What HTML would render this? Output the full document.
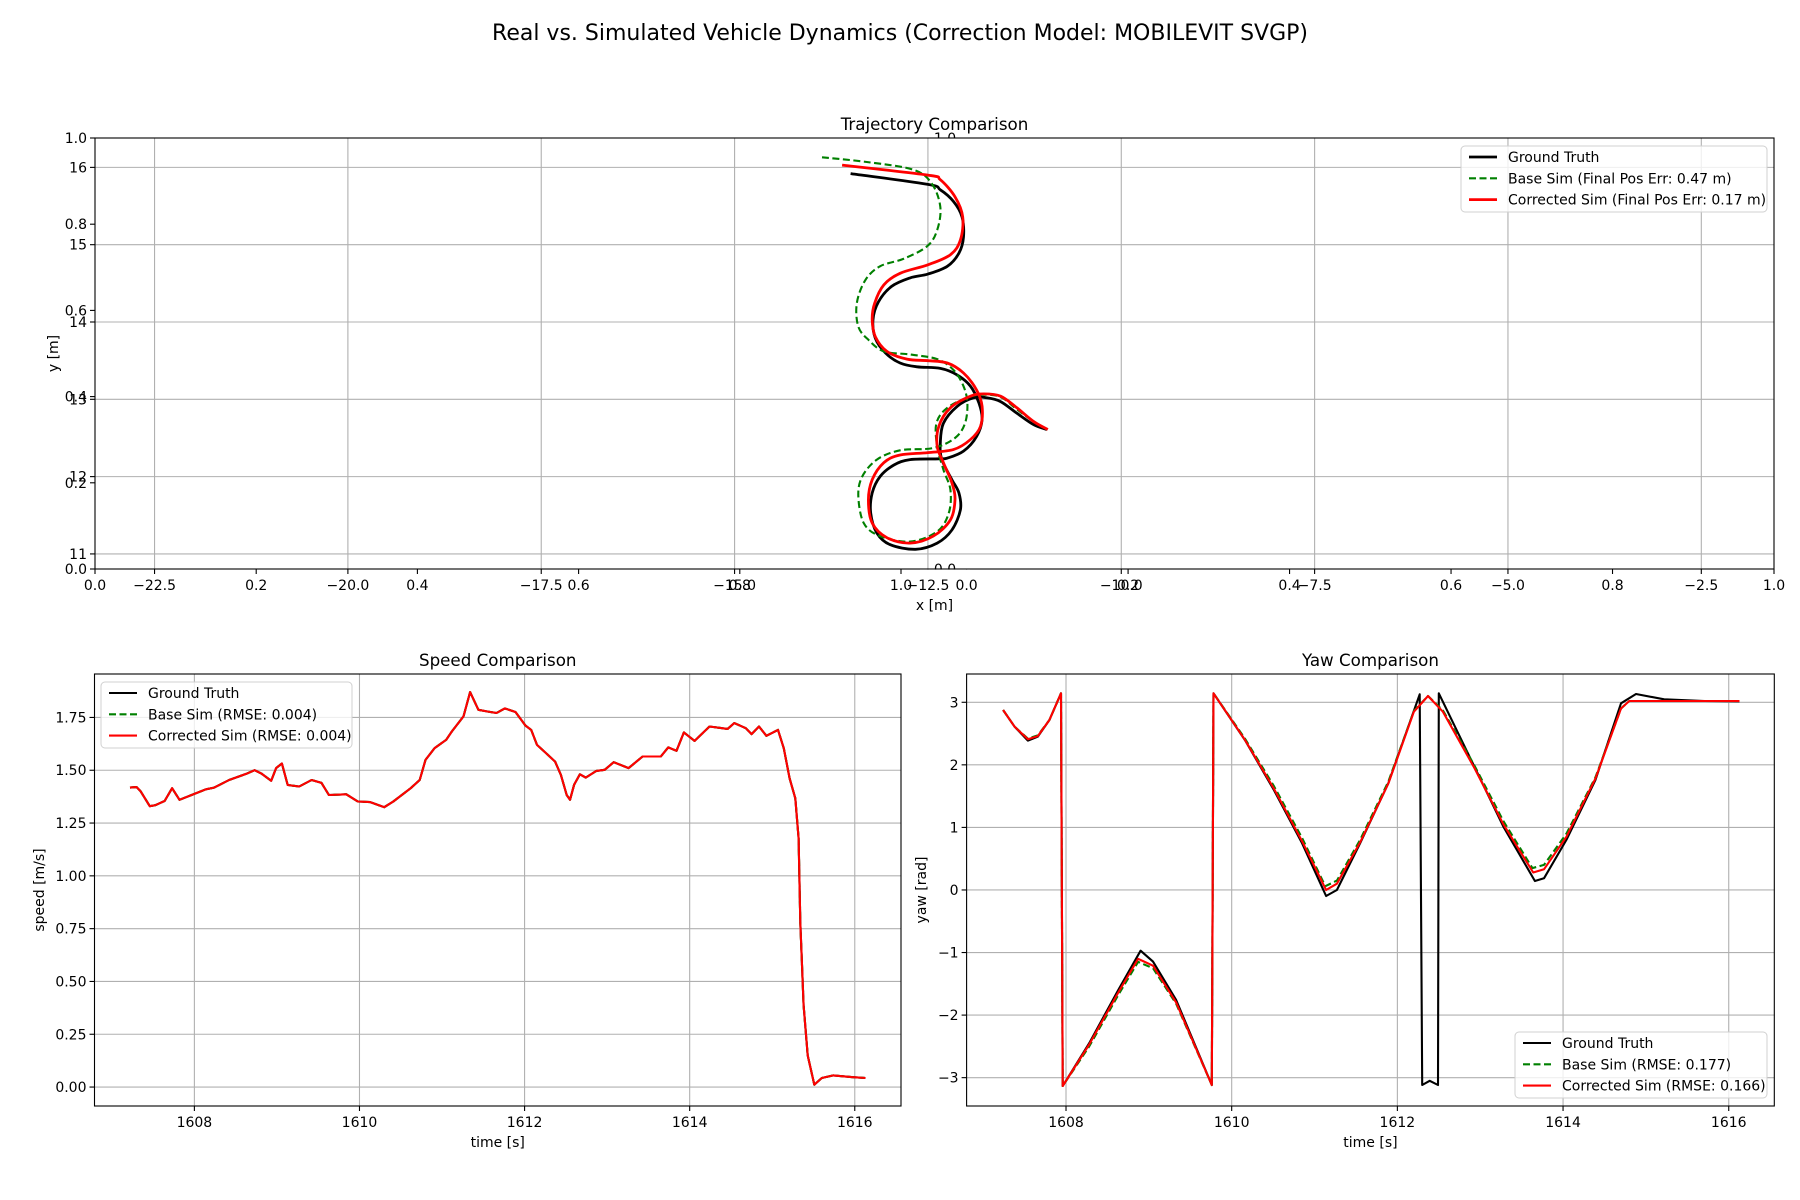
<!DOCTYPE html>
<html><head><meta charset="utf-8"><style>
html,body{margin:0;padding:0;background:#fff;}
svg{display:block;font-family:"DejaVu Sans","Liberation Sans",sans-serif;}
</style></head><body>
<svg id="fig" width="1800" height="1200" viewBox="0 0 1800 1200" xmlns="http://www.w3.org/2000/svg">
<rect width="1800" height="1200" fill="#fff"/>
<text x="900" y="40" font-size="22" text-anchor="middle">Real vs. Simulated Vehicle Dynamics (Correction Model: MOBILEVIT SVGP)</text>
</svg>
<script>
// ---- Trajectory data (meters) ----
const gtX=[-13.50,-12.50,-12.34,-12.17,-12.06,-12.04,-12.10,-12.25,-12.50,-12.73,-12.97,-13.14,-13.21,-13.18,-13.05,-12.86,-12.64,-12.34,-12.13,-11.95,-11.84,-11.80,-11.87,-12.04,-12.25,-12.36,-12.73,-12.94,-13.12,-13.22,-13.24,-13.16,-12.99,-12.66,-12.38,-12.19,-12.08,-12.10,-12.19,-12.32,-12.34,-12.30,-12.12,-11.91,-11.74,-11.56,-11.35,-11.13,-10.96];
const gtY=[15.92,15.78,15.71,15.56,15.36,15.10,14.89,14.72,14.62,14.57,14.46,14.26,14.03,13.79,13.60,13.47,13.42,13.40,13.32,13.17,12.95,12.74,12.52,12.33,12.24,12.23,12.22,12.15,12.00,11.79,11.53,11.27,11.12,11.06,11.14,11.31,11.57,11.79,11.96,12.22,12.43,12.69,12.91,13.02,13.02,12.97,12.82,12.67,12.61];
const corX=[-13.61,-12.50,-12.34,-12.15,-12.05,-12.08,-12.21,-12.50,-12.86,-13.07,-13.19,-13.22,-13.18,-13.03,-12.77,-12.50,-12.25,-12.04,-11.87,-11.80,-11.82,-11.95,-12.17,-12.50,-12.86,-13.07,-13.22,-13.27,-13.22,-13.03,-12.73,-12.43,-12.21,-12.15,-12.19,-12.30,-12.38,-12.36,-12.21,-11.95,-11.78,-11.56,-11.35,-11.13,-10.95];
const corY=[16.03,15.90,15.84,15.62,15.36,15.06,14.87,14.74,14.63,14.48,14.24,14.03,13.81,13.62,13.52,13.50,13.47,13.34,13.12,12.91,12.65,12.48,12.35,12.31,12.28,12.18,11.96,11.70,11.40,11.21,11.14,11.23,11.44,11.70,11.92,12.18,12.39,12.65,12.89,13.04,13.07,13.04,12.89,12.71,12.61];
const baseX=[-13.87,-13.29,-12.69,-12.45,-12.34,-12.38,-12.51,-12.81,-13.12,-13.31,-13.42,-13.40,-13.27,-13.07,-12.73,-12.38,-12.17,-12.04,-11.99,-12.02,-12.15,-12.43,-12.86,-13.16,-13.35,-13.40,-13.33,-13.12,-12.73,-12.38,-12.23,-12.21,-12.30,-12.38,-12.39,-12.25,-11.97,-11.78,-11.56,-11.35,-11.13,-10.96];
const baseY=[16.13,16.07,15.97,15.79,15.49,15.19,14.98,14.82,14.72,14.54,14.24,13.94,13.77,13.62,13.58,13.52,13.38,13.17,12.95,12.69,12.50,12.37,12.34,12.22,12.00,11.75,11.40,11.23,11.16,11.29,11.53,11.83,12.09,12.39,12.69,12.89,13.03,13.06,13.03,12.87,12.71,12.61];
const trajXTicks=[-22.5,-20.0,-17.5,-15.0,-12.5,-10.0,-7.5,-5.0,-2.5];
const trajYTicks=[11,12,13,14,15,16];
const unitTicks=[0.0,0.2,0.4,0.6,0.8,1.0];
// ---- Speed data ----
const spT=[1607.22,1607.30,1607.35,1607.46,1607.53,1607.64,1607.73,1607.82,1608.00,1608.14,1608.24,1608.42,1608.63,1608.73,1608.81,1608.93,1608.99,1609.06,1609.13,1609.27,1609.42,1609.54,1609.63,1609.84,1609.98,1610.13,1610.30,1610.41,1610.62,1610.73,1610.80,1610.91,1611.05,1611.12,1611.26,1611.34,1611.44,1611.55,1611.66,1611.76,1611.89,1612.01,1612.08,1612.15,1612.26,1612.37,1612.44,1612.51,1612.55,1612.60,1612.67,1612.74,1612.87,1612.97,1613.08,1613.26,1613.43,1613.65,1613.74,1613.84,1613.93,1614.06,1614.24,1614.46,1614.54,1614.68,1614.75,1614.84,1614.93,1615.07,1615.14,1615.21,1615.28,1615.32,1615.34,1615.38,1615.43,1615.51,1615.60,1615.74,1615.96,1616.13];
const spV=[1.418,1.42,1.40,1.33,1.335,1.355,1.415,1.36,1.388,1.41,1.418,1.454,1.483,1.50,1.485,1.45,1.51,1.532,1.43,1.423,1.454,1.44,1.383,1.386,1.352,1.349,1.325,1.352,1.415,1.454,1.549,1.605,1.644,1.684,1.755,1.870,1.786,1.778,1.771,1.793,1.776,1.712,1.691,1.620,1.581,1.541,1.478,1.383,1.36,1.431,1.481,1.465,1.497,1.502,1.538,1.51,1.565,1.565,1.608,1.592,1.679,1.639,1.707,1.696,1.723,1.699,1.671,1.707,1.663,1.691,1.604,1.462,1.367,1.178,0.78,0.387,0.15,0.011,0.043,0.055,0.047,0.043];
const spXTicks=[1608,1610,1612,1614,1616];
const spYTicks=[0.00,0.25,0.50,0.75,1.00,1.25,1.50,1.75];
// ---- Yaw data ----
const yawGtT=[1607.24,1607.38,1607.54,1607.66,1607.80,1607.94,1607.96,1608.28,1608.63,1608.90,1609.05,1609.33,1609.76,1609.78,1610.16,1610.51,1610.85,1611.14,1611.27,1611.55,1611.89,1612.27,1612.30,1612.39,1612.49,1612.50,1612.93,1613.28,1613.66,1613.77,1614.04,1614.39,1614.70,1614.88,1615.22,1615.71,1616.13];
const yawGtV=[2.877,2.61,2.387,2.45,2.717,3.143,-3.133,-2.45,-1.60,-0.97,-1.145,-1.76,-3.117,3.143,2.397,1.598,0.746,-0.096,0.0,0.746,1.705,3.127,-3.117,-3.05,-3.117,3.143,1.97,1.012,0.144,0.186,0.80,1.758,2.983,3.133,3.047,3.02,3.015];
const yawCorT=[1607.24,1607.38,1607.54,1607.66,1607.80,1607.94,1607.96,1608.28,1608.63,1608.87,1609.05,1609.33,1609.76,1609.78,1610.16,1610.51,1610.85,1611.14,1611.27,1611.55,1611.89,1612.20,1612.37,1612.55,1612.93,1613.28,1613.64,1613.77,1614.04,1614.39,1614.70,1614.80,1615.22,1616.13];
const yawCorV=[2.877,2.61,2.41,2.46,2.717,3.143,-3.133,-2.47,-1.64,-1.10,-1.21,-1.80,-3.117,3.143,2.40,1.62,0.78,0.0,0.10,0.76,1.70,2.85,3.10,2.85,1.95,1.05,0.28,0.33,0.85,1.78,2.90,3.02,3.02,3.02];
const yawBaseT=[1607.24,1607.38,1607.54,1607.66,1607.80,1607.94,1607.96,1608.28,1608.63,1608.87,1609.05,1609.33,1609.76,1609.78,1610.16,1610.51,1610.85,1611.13,1611.27,1611.55,1611.89,1612.20,1612.37,1612.55,1612.93,1613.28,1613.63,1613.77,1614.04,1614.39,1614.70,1614.80,1615.22,1616.13];
const yawBaseV=[2.877,2.61,2.42,2.47,2.717,3.143,-3.133,-2.50,-1.68,-1.15,-1.25,-1.82,-3.117,3.143,2.42,1.66,0.83,0.06,0.15,0.80,1.73,2.86,3.10,2.87,1.99,1.10,0.35,0.40,0.90,1.80,2.90,3.02,3.02,3.02];
const yawXTicks=[1608,1610,1612,1614,1616];
const yawYTicks=[-3,-2,-1,0,1,2,3];

const NS="http://www.w3.org/2000/svg";
const svg=document.getElementById('fig');
function mk(tag,attrs,parent){const e=document.createElementNS(NS,tag);for(const k in attrs)e.setAttribute(k,attrs[k]);(parent||svg).appendChild(e);return e;}
function lin(d0,d1,p0,p1){return v=>p0+(v-d0)*(p1-p0)/(d1-d0);}
function fmt(v,d){return (v<0?'\u2212':'')+Math.abs(v).toFixed(d);}
function smoothPath(P){
  let d='M'+P[0][0].toFixed(1)+','+P[0][1].toFixed(1);
  for(let i=0;i<P.length-1;i++){
    const p0=P[Math.max(0,i-1)],p1=P[i],p2=P[i+1],p3=P[Math.min(P.length-1,i+2)];
    const c1=[p1[0]+(p2[0]-p0[0])/6,p1[1]+(p2[1]-p0[1])/6];
    const c2=[p2[0]-(p3[0]-p1[0])/6,p2[1]-(p3[1]-p1[1])/6];
    d+=' C'+c1[0].toFixed(1)+','+c1[1].toFixed(1)+' '+c2[0].toFixed(1)+','+c2[1].toFixed(1)+' '+p2[0].toFixed(1)+','+p2[1].toFixed(1);
  }
  return d;
}

function axes(o){
  const g=mk('g',{});
  
  
  const sx=lin(o.x0,o.x1,o.L,o.R), sy=lin(o.y0,o.y1,o.B,o.T);
  const clipId=o.name+'-clip';
  const cp=mk('clipPath',{id:clipId},g);mk('rect',{x:o.L,y:o.T,width:o.R-o.L,height:o.B-o.T},cp);
  mk('rect',{x:o.L,y:o.T,width:o.R-o.L,height:o.B-o.T,fill:'#fff'},g);
  o.xt.forEach(v=>{const x=sx(v);
    const gl=mk('line',{x1:x,x2:x,y1:o.T,y2:o.B,stroke:'#b0b0b0','stroke-width':1.1},g);
    
    
    mk('line',{x1:x,x2:x,y1:o.B,y2:o.B+5,stroke:'#000','stroke-width':1.1},g);
    const t=mk('text',{x:x,y:o.B+21,'font-size':14,'text-anchor':'middle'},g);t.textContent=fmt(v,o.xd);
    
    });
  o.yt.forEach(v=>{const y=sy(v);
    const gl=mk('line',{x1:o.L,x2:o.R,y1:y,y2:y,stroke:'#b0b0b0','stroke-width':1.1},g);
    
    
    mk('line',{x1:o.L-5,x2:o.L,y1:y,y2:y,stroke:'#000','stroke-width':1.1},g);
    const t=mk('text',{x:o.L-8,y:y+5,'font-size':14,'text-anchor':'end'},g);t.textContent=fmt(v,o.yd);
    
    });
  const lg=mk('g',{'clip-path':'url(#'+clipId+')'},g);
  o.series.forEach(s=>{
    const P=s.xs.map((v,i)=>[sx(v),sy(s.ys[i])]);
    let el;
    if(o.smooth){
      el=mk('path',{d:smoothPath(P),fill:'none',stroke:s.c,'stroke-width':s.w,'stroke-linejoin':'round'},lg);
    }else{
      el=mk('polyline',{points:P.map(p=>p[0].toFixed(1)+','+p[1].toFixed(1)).join(' '),fill:'none',stroke:s.c,'stroke-width':s.w,'stroke-linejoin':'round'},lg);
    }
    if(s.dash)el.setAttribute('stroke-dasharray',s.dash);
    
    
  });
  const fr=mk('rect',{x:o.L,y:o.T,width:o.R-o.L,height:o.B-o.T,fill:'none',stroke:'#000','stroke-width':1.1},g);
  
  
  const tt=mk('text',{x:(o.L+o.R)/2,y:o.T-8,'font-size':16.7,'text-anchor':'middle'},g);tt.textContent=o.title;
  
  
  const xl=mk('text',{x:(o.L+o.R)/2,y:o.B+41,'font-size':14,'text-anchor':'middle'},g);xl.textContent=o.xlabel;
  
  
  const yl=mk('text',{x:o.ylx,y:(o.T+o.B)/2,'font-size':14,'text-anchor':'middle',transform:'rotate(-90 '+o.ylx+' '+(o.T+o.B)/2+')'},g);yl.textContent=o.ylabel;
  
  
  const lgd=mk('g',{},g);
  
  
  mk('rect',{x:o.lx,y:o.ly,width:o.lw,height:66,rx:4,fill:'#fff','fill-opacity':0.8,stroke:'#d0d0d0','stroke-width':1},lgd);
  o.series.forEach((s,i)=>{const y=o.ly+11+i*21.3;
    const a={x1:o.lx+8,x2:o.lx+36,y1:y,y2:y,stroke:s.c,'stroke-width':s.w};
    if(s.dash)a['stroke-dasharray']=s.dash;
    mk('line',a,lgd);
    const t=mk('text',{x:o.lx+47,y:y+5,'font-size':14},lgd);t.textContent=s.label;
    
    });
  return {sx,sy,g};
}

// hidden subplot tick labels behind the trajectory axes
(function(){
  const g=mk('g',{});
  
  
  const syU=lin(0,1,569,138);
  unitTicks.forEach(v=>{const y=syU(v);
    mk('line',{x1:90,x2:95,y1:y,y2:y,stroke:'#000','stroke-width':1.1},g);
    const t=mk('text',{x:87,y:y+5,'font-size':14,'text-anchor':'end'},g);t.textContent=v.toFixed(1);
    
    });
  [[95,901],[966.6,1774]].forEach(r=>{const sxU=lin(0,1,r[0],r[1]);
    unitTicks.forEach(v=>{const x=sxU(v);
      mk('line',{x1:x,x2:x,y1:569,y2:574,stroke:'#000','stroke-width':1.1},g);
      const t=mk('text',{x:x,y:590,'font-size':14,'text-anchor':'middle'},g);t.textContent=v.toFixed(1);
      
      });});
  const t1=mk('text',{x:945,y:143,'font-size':14,'text-anchor':'middle'},g);t1.textContent='1.0';
  
  
})();

axes({name:'trajectory-plot',L:95,R:1774,T:138,B:569,x0:-23.27,x1:-1.56,y0:10.805,y1:16.38,smooth:true,
  xt:trajXTicks,yt:trajYTicks,xd:1,yd:0,title:'Trajectory Comparison',xlabel:'x [m]',ylabel:'y [m]',ylx:58,
  lx:1461,ly:146,lw:306,
  series:[{name:'ground-truth-path',xs:gtX,ys:gtY,c:'#000',w:2.8,label:'Ground Truth'},
          {name:'base-sim-path',xs:baseX,ys:baseY,c:'#008000',w:2.1,dash:'7,3.5',label:'Base Sim (Final Pos Err: 0.47 m)'},
          {name:'corrected-sim-path',xs:corX,ys:corY,c:'#ff0000',w:2.8,label:'Corrected Sim (Final Pos Err: 0.17 m)'}]});
(function(){const t=mk('text',{x:945,y:574,'font-size':14,'text-anchor':'middle'});t.textContent='0.0';
  
  
  const c=mk('rect',{x:920,y:569.6,width:50,height:8,fill:'#fff'});
  
  })();

axes({name:'speed-plot',L:94.5,R:901,T:674,B:1106,x0:1606.79,x1:1616.56,y0:-0.0897,y1:1.9557,
  xt:spXTicks,yt:spYTicks,xd:0,yd:2,title:'Speed Comparison',xlabel:'time [s]',ylabel:'speed [m/s]',ylx:44,
  lx:101,ly:682,lw:251,
  series:[{name:'speed-ground-truth',xs:spT,ys:spV,c:'#000',w:2.1,label:'Ground Truth'},
          {name:'speed-base-sim',xs:spT,ys:spV,c:'#008000',w:2.1,dash:'7,3.5',label:'Base Sim (RMSE: 0.004)'},
          {name:'speed-corrected-sim',xs:spT,ys:spV,c:'#ff0000',w:2.1,label:'Corrected Sim (RMSE: 0.004)'}]});

axes({name:'yaw-plot',L:966.6,R:1774.3,T:674,B:1106,x0:1606.80,x1:1616.55,y0:-3.453,y1:3.452,
  xt:yawXTicks,yt:yawYTicks,xd:0,yd:0,title:'Yaw Comparison',xlabel:'time [s]',ylabel:'yaw [rad]',ylx:926,
  lx:1515,ly:1032,lw:252,
  series:[{name:'yaw-ground-truth',xs:yawGtT,ys:yawGtV,c:'#000',w:2.1,label:'Ground Truth'},
          {name:'yaw-base-sim',xs:yawBaseT,ys:yawBaseV,c:'#008000',w:2.1,dash:'7,3.5',label:'Base Sim (RMSE: 0.177)'},
          {name:'yaw-corrected-sim',xs:yawCorT,ys:yawCorV,c:'#ff0000',w:2.1,label:'Corrected Sim (RMSE: 0.166)'}]});
</script>
</body></html>
